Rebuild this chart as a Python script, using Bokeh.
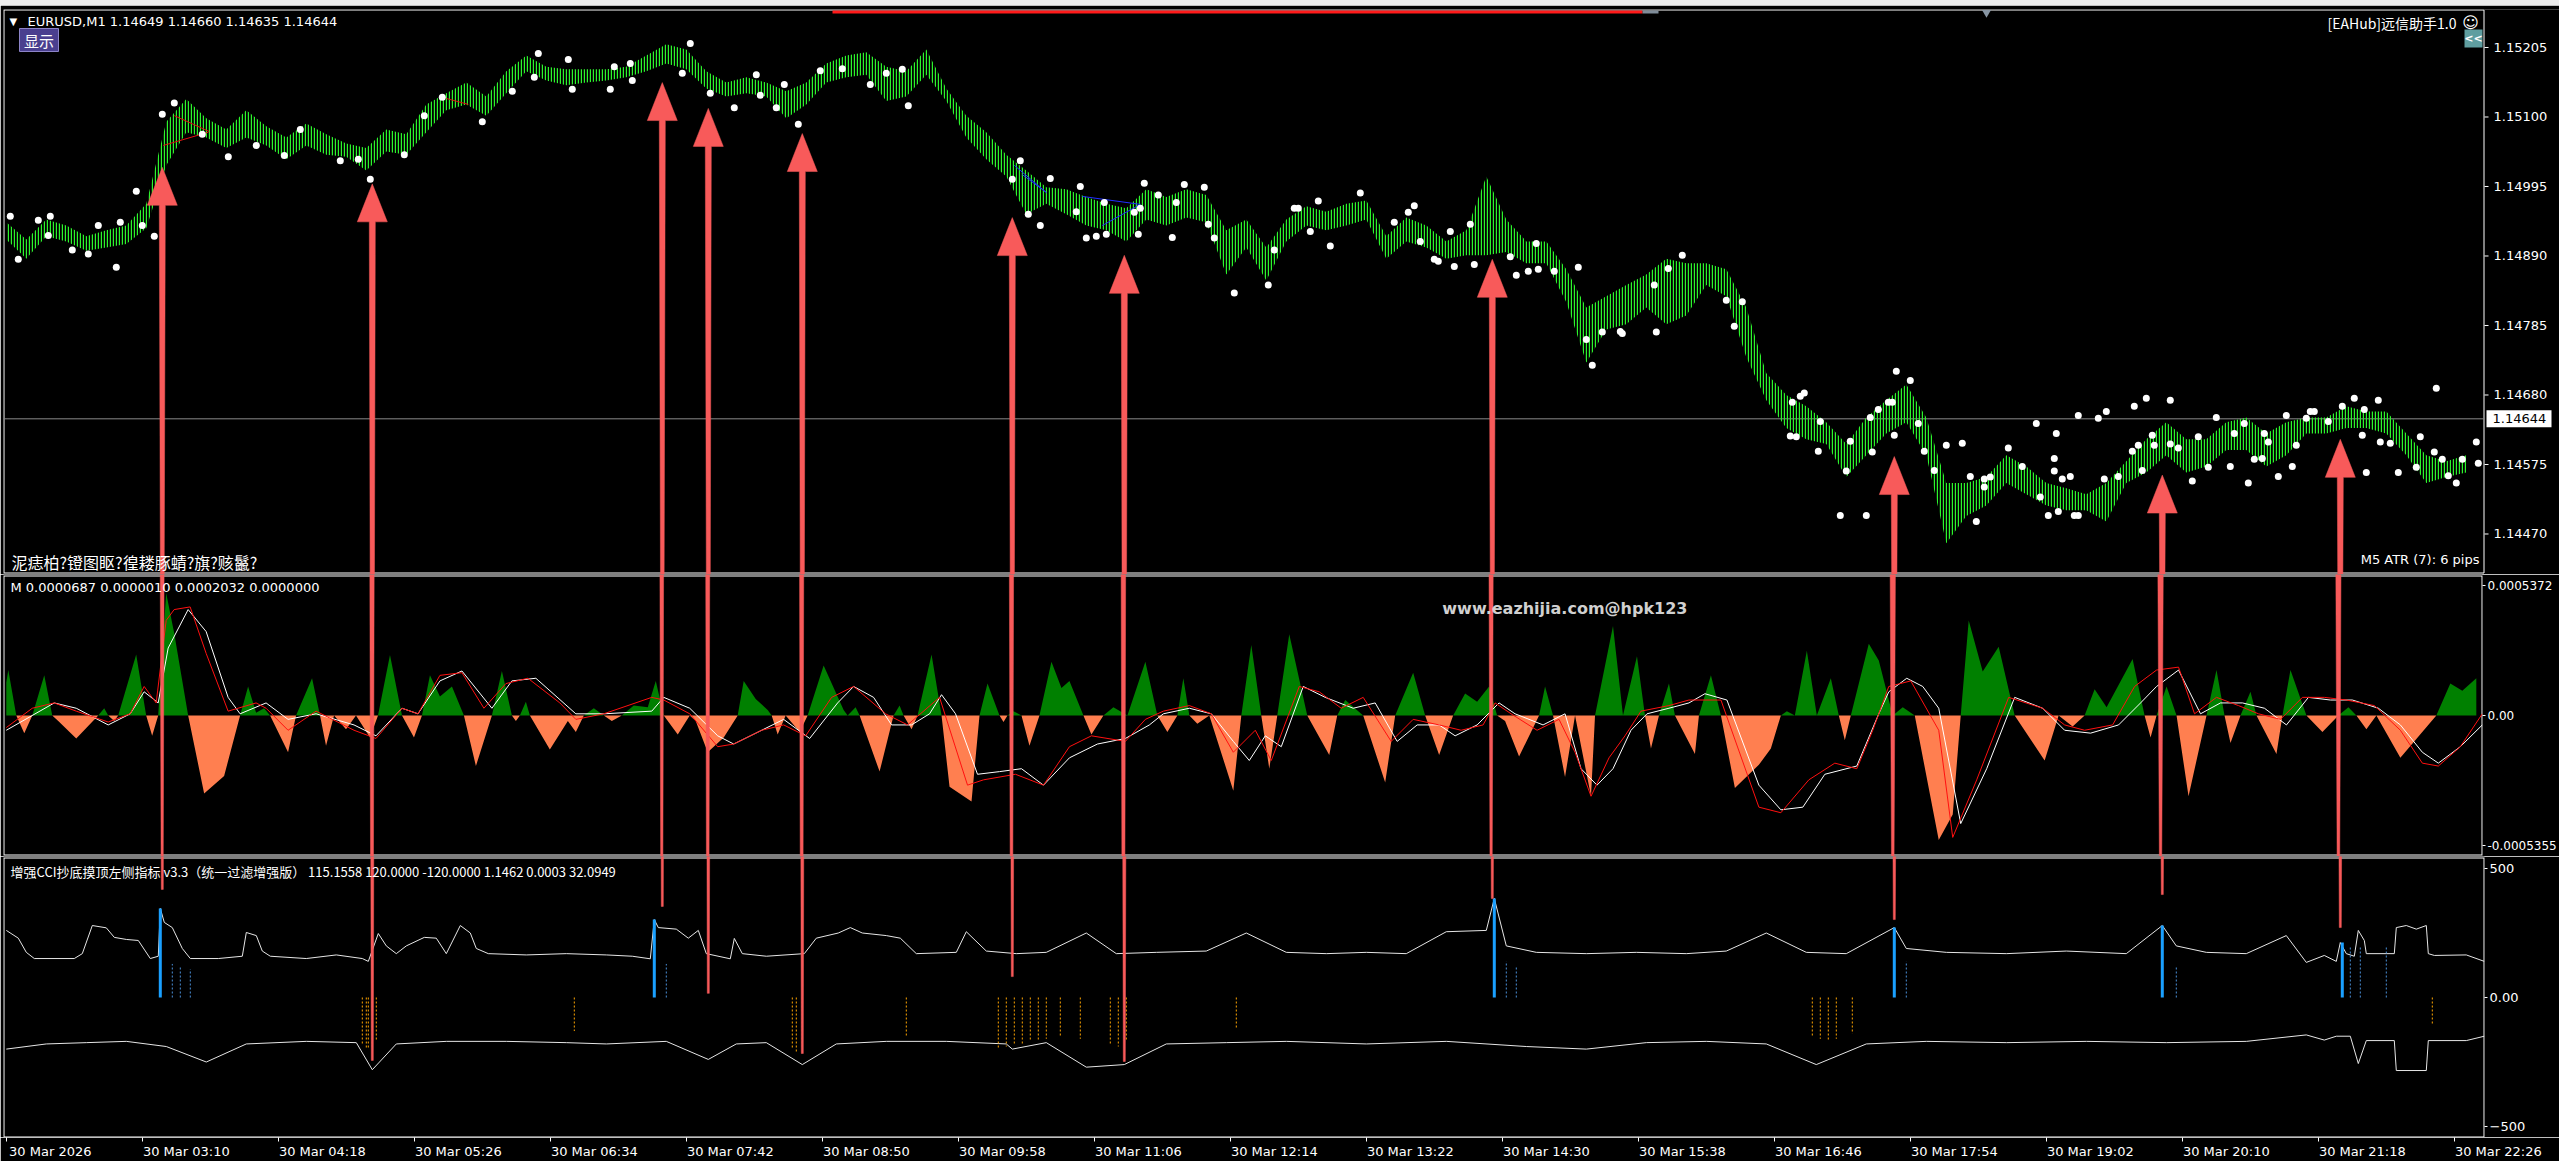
import numpy as np
from bokeh.plotting import figure
from bokeh.models import Range1d, FixedTicker, Label, Spacer, LinearAxis
from bokeh.embed import file_html
from bokeh.resources import INLINE
from bokeh.core.properties import value

# ---------------------------------------------------------------- data
# time axis (minutes after 02:02, one M1 bar per minute)
time_ticks = [0, 68, 136, 204, 272, 340, 408, 476, 544, 612, 680, 748, 816, 884, 952, 1020, 1088, 1156, 1224]
time_labels = ["30 Mar 2026", "30 Mar 03:10", "30 Mar 04:18", "30 Mar 05:26", "30 Mar 06:34", "30 Mar 07:42",
               "30 Mar 08:50", "30 Mar 09:58", "30 Mar 11:06", "30 Mar 12:14", "30 Mar 13:22", "30 Mar 14:30",
               "30 Mar 15:38", "30 Mar 16:46", "30 Mar 17:54", "30 Mar 19:02", "30 Mar 20:10", "30 Mar 21:18",
               "30 Mar 22:26"]
price_ticks = [1.14470, 1.14575, 1.14680, 1.14785, 1.14890, 1.14995, 1.15100, 1.15205]
last_price = 1.14644

# EURUSD M1 bars, high/low of each 10-minute slice
slice_minute = list(range(0, 1240, 10))
slice_high = [1.14941, 1.14915, 1.14945, 1.14936, 1.14920, 1.14929, 1.14936, 1.14969, 1.15093, 1.15127,
              1.15098, 1.15081, 1.15110, 1.15086, 1.15069, 1.15090, 1.15074, 1.15060, 1.15053, 1.15081,
              1.15074, 1.15119, 1.15136, 1.15152, 1.15131, 1.15169, 1.15193, 1.15176, 1.15172, 1.15172,
              1.15172, 1.15176, 1.15193, 1.15210, 1.15202, 1.15169, 1.15152, 1.15160, 1.15152, 1.15139,
              1.15152, 1.15181, 1.15193, 1.15198, 1.15176, 1.15169, 1.15202, 1.15143, 1.15102, 1.15077,
              1.15043, 1.15019, 1.14994, 1.14991, 1.14979, 1.14969, 1.14962, 1.14991, 1.14979, 1.14991,
              1.14982, 1.14929, 1.14945, 1.14903, 1.14945, 1.14965, 1.14957, 1.14969, 1.14974, 1.14920,
              1.14948, 1.14936, 1.14912, 1.14929, 1.15010, 1.14945, 1.14912, 1.14912, 1.14870, 1.14812,
              1.14829, 1.14846, 1.14862, 1.14886, 1.14879, 1.14879, 1.14870, 1.14812, 1.14713, 1.14680,
              1.14663, 1.14639, 1.14606, 1.14646, 1.14672, 1.14696, 1.14646, 1.14547, 1.14547, 1.14556,
              1.14589, 1.14572, 1.14547, 1.14539, 1.14530, 1.14547, 1.14580, 1.14613, 1.14639, 1.14613,
              1.14613, 1.14639, 1.14646, 1.14622, 1.14639, 1.14646, 1.14646, 1.14663, 1.14655, 1.14655,
              1.14622, 1.14589, 1.14580, 1.14589]
slice_low = [1.14915, 1.14886, 1.14920, 1.14912, 1.14898, 1.14903, 1.14908, 1.14932, 1.15027, 1.15077,
             1.15069, 1.15053, 1.15069, 1.15057, 1.15036, 1.15057, 1.15043, 1.15040, 1.15019, 1.15048,
             1.15043, 1.15077, 1.15110, 1.15119, 1.15102, 1.15136, 1.15169, 1.15155, 1.15148, 1.15152,
             1.15155, 1.15160, 1.15169, 1.15181, 1.15172, 1.15143, 1.15131, 1.15136, 1.15131, 1.15098,
             1.15119, 1.15152, 1.15160, 1.15164, 1.15124, 1.15131, 1.15164, 1.15124, 1.15069, 1.15036,
             1.15010, 1.14953, 1.14969, 1.14953, 1.14936, 1.14929, 1.14912, 1.14945, 1.14936, 1.14948,
             1.14941, 1.14862, 1.14903, 1.14853, 1.14912, 1.14936, 1.14929, 1.14936, 1.14945, 1.14886,
             1.14912, 1.14903, 1.14886, 1.14891, 1.14891, 1.14896, 1.14879, 1.14879, 1.14820, 1.14729,
             1.14779, 1.14787, 1.14812, 1.14787, 1.14800, 1.14846, 1.14829, 1.14737, 1.14672, 1.14630,
             1.14613, 1.14606, 1.14556, 1.14589, 1.14622, 1.14639, 1.14589, 1.14456, 1.14497, 1.14513,
             1.14547, 1.14530, 1.14513, 1.14506, 1.14506, 1.14489, 1.14547, 1.14563, 1.14589, 1.14563,
             1.14572, 1.14597, 1.14597, 1.14572, 1.14589, 1.14622, 1.14622, 1.14630, 1.14630, 1.14622,
             1.14589, 1.14547, 1.14556, 1.14563]

# white fractal dots
dot_minute = [2, 6, 16, 22, 21, 33, 41, 46, 55, 57, 65, 68, 74, 78, 84, 98, 111, 125, 139, 147, 167, 176, 182, 199,
              209, 218, 238, 253, 264, 266, 281, 283, 302, 304, 312, 313, 338, 342, 352, 364, 375, 377, 385, 389,
              396, 407, 418,
              432, 440, 448, 451, 507, 503, 511, 517, 522, 535, 537, 540, 545, 549, 550, 564, 566, 567, 569, 576,
              583, 585, 589, 599, 601, 604, 614, 631, 634, 644, 646, 652, 656, 662, 677, 694, 701, 704, 707, 714,
              716, 722, 724, 732, 734, 752, 755, 761, 765, 766, 774, 786, 790, 793, 798, 807, 808, 824, 825, 831, 838,
              860, 868, 864, 893, 897, 899, 892, 895, 907, 906, 920, 922, 917, 930, 932, 933, 936, 941, 943, 945,
              944, 952, 956, 959, 964, 970, 978, 982, 985, 989, 989, 992, 1001, 1008, 1015, 1017, 1021, 1024, 1024,
              1025, 1026, 1028, 1032, 1034, 1036, 1036, 1046, 1049, 1050, 1056, 1063, 1064, 1066, 1068, 1070, 1073,
              1074, 1082, 1082, 1086, 1093, 1096, 1101, 1105, 1112, 1114, 1119, 1121, 1124, 1128, 1129, 1131, 1136,
              1140, 1143, 1145, 1150, 1152, 1154, 1161, 1168, 1174, 1178, 1179, 1180, 1186, 1187, 1192, 1196, 1205,
              1207, 1214, 1215, 1218, 1221, 1225, 1228, 1235, 1236]
dot_price = [1.14950, 1.14885, 1.14944, 1.14950, 1.14921, 1.14899, 1.14893, 1.14936, 1.14873, 1.14941, 1.14988,
             1.14936, 1.14920, 1.15104, 1.15121, 1.15074, 1.15040, 1.15057, 1.15042, 1.15081, 1.15034, 1.15036,
             1.15006, 1.15043, 1.15102, 1.15130, 1.15093, 1.15139, 1.15160, 1.15196, 1.15187, 1.15142, 1.15142,
             1.15176, 1.15181, 1.15155, 1.15166, 1.15211, 1.15136, 1.15114, 1.15164, 1.15133, 1.15114, 1.15149,
             1.15089, 1.15170, 1.15173,
             1.15149, 1.15166, 1.15172, 1.15117, 1.15034, 1.15006, 1.14953, 1.14936, 1.15007, 1.14957, 1.14995,
             1.14917, 1.14920, 1.14971, 1.14923, 1.14956, 1.14923, 1.14962, 1.15000, 1.14982, 1.14918, 1.14971,
             1.14998, 1.14994, 1.14938, 1.14917, 1.14834, 1.14846, 1.14899, 1.14962, 1.14962, 1.14927, 1.14973,
             1.14905, 1.14985, 1.14941, 1.14956, 1.14966, 1.14912, 1.14885, 1.14882, 1.14927, 1.14874, 1.14938,
             1.14877, 1.14889, 1.14861, 1.14867, 1.14909, 1.14870, 1.14867, 1.14873, 1.14764, 1.14725, 1.14775,
             1.14776, 1.14773, 1.14846, 1.14775, 1.14871, 1.14891,
             1.14823, 1.14821, 1.14784, 1.14669, 1.14678, 1.14683, 1.14618, 1.14617, 1.14640, 1.14595, 1.14565,
             1.14610, 1.14498, 1.14498, 1.14646, 1.14594, 1.14658, 1.14669, 1.14669, 1.14716, 1.14619, 1.14702,
             1.14637, 1.14595, 1.14566, 1.14604, 1.14607, 1.14557, 1.14489, 1.14553, 1.14541, 1.14556, 1.14600,
             1.14572, 1.14637, 1.14526, 1.14498, 1.14584, 1.14565, 1.14622, 1.14504, 1.14553, 1.14557, 1.14498,
             1.14498, 1.14649, 1.14645, 1.14553, 1.14655, 1.14557, 1.14595, 1.14663, 1.14604, 1.14566, 1.14675,
             1.14619, 1.14604, 1.14672, 1.14606, 1.14600, 1.14550, 1.14617, 1.14571, 1.14646, 1.14572, 1.14622,
             1.14637, 1.14547, 1.14583, 1.14584, 1.14622, 1.14609, 1.14557, 1.14649, 1.14572, 1.14604, 1.14645,
             1.14655, 1.14655, 1.14640, 1.14663, 1.14675, 1.14619, 1.14658, 1.14563, 1.14672, 1.14609, 1.14607,
             1.14563, 1.14571, 1.14617, 1.14594, 1.14690, 1.14583, 1.14558, 1.14547, 1.14583, 1.14609, 1.14577]

# small pattern lines on the price chart (minute0, price0, minute1, price1)
red_lines = [(78.5, 1.15057, 101, 1.15077), (84, 1.15102, 101.5, 1.15078), (220, 1.15128, 231, 1.15119)]
blue_lines = [(504, 1.15027, 520, 1.14986), (508, 1.15013, 520, 1.14986),
              (538, 1.14980, 567, 1.14968), (548, 1.14936, 567, 1.14968)]

# signal arrows: bar, tip price (main pane), tail value (CCI pane)
arrow_minute = [78, 183, 328, 351, 398, 503, 559, 743, 944, 1078, 1167]
arrow_tip_price = [1.15024, 1.14999, 1.15152, 1.15113, 1.15075, 1.14948, 1.14891, 1.14885, 1.14587, 1.14559, 1.14613]
arrow_tail_cci = [419, -244, 353, 16, -217, 81, -248, 384, 302, 399, 271]

# MACD histogram and lines (values in 1e-6)
hist_minute = [0, 1, 5, 9, 13, 19, 23, 26, 35, 46, 49, 51, 54, 56, 65, 70, 73, 76, 80, 84, 91, 99, 109, 117, 121,
               125, 129, 132, 141, 145, 153, 157, 160, 164, 170, 175, 182, 186, 192, 198, 204, 208, 212, 217, 223,
               229, 235, 243, 248, 253, 255, 257, 260, 262, 272, 281, 285, 289, 294, 299, 303, 308, 314, 321, 325,
               329, 336, 342, 345, 351, 359, 366, 369, 375, 381, 383, 386, 390, 397, 401, 409, 419, 421,
               425, 427, 437, 444, 447, 449, 453, 456, 463, 468, 472, 483, 487, 491, 497, 499, 501, 504, 508, 512,
               517, 523, 528, 532, 539, 543, 549, 554, 561, 570, 576, 581, 586, 589, 592, 596, 602, 614, 618, 623,
               628, 632, 636, 642, 651, 662, 666, 670, 679, 690, 695, 704, 710, 717, 724, 730, 736, 742, 746, 750,
               757, 767, 770, 774, 780, 785, 793, 795, 804, 809, 816, 820, 823, 827, 832, 835, 845, 847,
               853, 858, 865, 877, 883, 888, 891, 895, 901, 906, 913, 917, 920, 923, 932, 937, 944, 949, 955, 967,
               974, 978, 982, 989, 997, 1005, 1020, 1027, 1034, 1040, 1045, 1051, 1064, 1070, 1073, 1076, 1081,
               1086, 1092, 1101, 1106, 1110, 1113, 1118, 1123, 1126, 1136, 1139, 1143, 1151, 1159, 1167, 1172, 1176,
               1181, 1186, 1198, 1216, 1223, 1229, 1236]
hist_e6 = [136, 188, 0, -73, 0, 166, 0, -23, -95, 0, 30, 0, -23, 0, 252, 0, -84, 0, 506, 341, 0, -322, -250, 0, 120,
           11, 30, 0, -152, 0, 154, 0, -125, 0, -57, 0, -91, 0, 250, 0, -91, 0, 166, 79, 120, 0, -209, 0, 184, 0,
           -23, 0, 57, 0, -141, -23, -68, 0, 30, 0, -23, 0, 41, 34, 143, 0, -79, 0, -23, -152, -91, 0, 143, 68, 23,
           0, -79, 0, -68, 0, 207, 23, 0,
           34, 0, -232, 0, 41, 0, -57, 0, 252, 0, -295, -356, 0, 132, 0, -27, 0, 18, 0, -125, 0, 222, 114, 143, 0,
           -79, 0, 34, 0, 222, 0, -68, 0, 154, 0, -34, 0, -311, 0, 291, 0, -220, 0, 336, 0, -163, 0, 64, 0, -277,
           0, 177, 0, -163, 0, 91, 57, 120, 0, -23, -170, 0, 120, 0, -254, 0, -334, 0, 370, 0, 245, 0, -136, 0,
           132, 0, -159, 0,
           166, 0, -300, -204, -136, 0, 18, 0, 268, 0, 154, 0, -102, 0, 297, 227, 0, 34, 0, -515, -409, 0, 393,
           182, 284, 0, -186, 0, -45, 0, 109, 34, 234, 0, -91, 0, 120, 0, -334, 0, 188, 0, -114, 0, 98, 0, -159,
           0, 188, 0, -68, 0, 34, 0, -57, 0, -175, 0, 132, 102, 154]
macd_main_minute = [0, 24, 35, 51, 62, 69, 76, 81, 91, 100, 111, 117, 130, 141, 155, 174, 185, 198, 206, 217, 228,
                    243, 253, 265, 285, 299, 323, 329, 342, 356, 364, 378, 389, 402, 416, 424,
                    434, 443, 453, 462, 468, 475, 486, 497, 508, 519, 532, 546, 560, 572, 579, 592, 603, 614, 622,
                    630, 638, 649, 660, 674, 685, 696, 706, 717, 725, 736, 747, 755, 769, 780, 788, 796, 804, 813,
                    821, 832, 842,
                    850, 861, 877, 888, 899, 910, 926, 937, 942, 951, 959, 967, 978, 991, 1005, 1019, 1030, 1043,
                    1057, 1068, 1076, 1087, 1098, 1108, 1119, 1130, 1141, 1152, 1163, 1174, 1187, 1198, 1209, 1217,
                    1228, 1239]
macd_main_e6 = [-61, 52, 30, -39, 7, 98, 52, 279, 438, 347, 75, 7, 52, -16, 7, -39, -84, 30, 7, 143, 184, 30, 143,
                154, 7, 7, 18, 75, 30, -84, -118, -61, -16, -95, 52, 120,
                75, -39, -39, 7, 86, 7, -243, -232, -220, -288, -175, -118, -95, -39, 7, 30, 7, -107, -186, -84,
                -129, 120, 75, 30, 52, -107, -39, -39, -84, -39, 52, 7, -39, 7, -220, -288, -220, -61, 7, 30, 52,
                90, 64, -288, -390, -379, -243, -209, 7, 98, 154, 120, 30, -447, -220, 75, 30, -61, -73, -39, 52,
                120, 188, 7, 52, 52, 30, -39, 75, 64, 64, 30, -39, -152, -197, -129, -39]
macd_signal_minute = [0, 13, 24, 35, 51, 62, 69, 75, 80, 84, 92, 100, 111, 125, 130, 141, 155, 174, 185, 198, 206,
                      217, 228, 239, 250, 261, 277, 285, 299, 323, 329, 342, 356, 364, 378, 389, 400, 413, 424,
                      440, 451, 467, 481, 489, 505, 519, 532, 543, 560, 570, 579, 592, 603, 614, 625, 633, 647, 657,
                      668, 679, 693, 704, 717, 728, 739, 745, 753, 766, 777, 785, 793, 802, 810, 818, 832, 842,
                      858, 877, 888, 902, 915, 926, 934, 942, 953, 967, 974, 986, 1002, 1019, 1030, 1040, 1054, 1065,
                      1076, 1087, 1095, 1106, 1117, 1127, 1138, 1149, 1160, 1171, 1185, 1198, 1209, 1217, 1228, 1239]
macd_signal_e6 = [-50, 30, 52, 18, -27, 7, 120, 52, 393, 438, 449, 257, 18, 52, 30, -61, 18, -61, -95, 30, 7, 166,
                  177, 30, 132, 154, 52, -16, 7, 75, 64, 7, -129, -118, -61, -39, -84, 75, 120,
                  7, -39, 75, -288, -266, -243, -288, -129, -84, -107, -16, 18, 41, 7, -152, -61, -186, 120, 98, 30,
                  75, -107, -16, -39, -61, -39, 52, 7, -61, -16, -152, -334, -175, -84, 18, 41, 64,
                  64, -379, -402, -266, -197, -220, -61, 120, 143, -61, -504, -266, 75, 30, -39, -61, -39, 120,
                  188, 200, 7, 75, 41, 7, -16, 75, 75, 64, 41, -61, -197, -209, -129, 7]
macd_ticks = [-0.0005355, 0.0, 0.0005372]

# enhanced CCI pane
cci_up_minute = [0, 6, 10, 14, 34, 38, 43, 50, 54, 60, 66, 72, 76, 77, 79, 83, 88, 92, 106, 118, 120, 125, 128, 132,
                 150, 165, 178, 181, 186, 190, 195, 200, 209, 215, 220, 227, 232, 235, 241, 260, 280, 300, 313, 322,
                 324, 326, 335, 341, 346, 350, 362, 364, 368, 380, 399, 405, 416, 422, 428, 440, 447,
                 455, 475, 480, 490, 505, 520, 540, 555, 575, 600, 620, 640, 660, 680, 700, 720, 740, 744, 750, 765,
                 790, 815, 840, 860, 880, 900, 920, 944, 950, 970, 1000, 1030, 1060, 1078, 1085, 1100, 1120, 1140,
                 1150, 1159, 1165, 1167, 1170, 1174, 1176, 1179, 1180, 1194, 1195, 1200, 1205, 1210, 1211, 1214,
                 1230, 1239]
cci_up = [260, 230, 175, 151, 151, 170, 279, 270, 233, 225, 221, 151, 160, 345, 291, 271, 190, 151, 151, 160, 252,
          240, 180, 160, 151, 165, 151, 140, 248, 200, 170, 200, 233, 230, 170, 279, 250, 190, 170, 165, 170, 165,
          160, 150, 302, 271, 265, 230, 260, 170, 150, 229, 170, 160, 170, 230, 250, 271, 250, 240, 230,
          170, 175, 255, 180, 170, 175, 250, 170, 175, 180, 250, 175, 170, 175, 170, 255, 260, 384, 200, 175,
          170, 175, 170, 180, 250, 175, 170, 271, 190, 175, 170, 180, 170, 279, 200, 175, 170, 240,
          136, 163, 140, 213, 170, 160, 260, 221, 170, 170, 271, 279, 265, 279, 170, 163, 165, 140]
cci_dn_minute = [0, 20, 40, 60, 80, 100, 120, 150, 175, 183, 195, 220, 250, 280, 300, 330, 351, 365, 380, 398, 415,
                 440, 470, 500, 503, 520, 540, 559, 580, 610, 640, 680, 720, 760, 790, 820, 850, 880, 905, 930, 960,
                 1000, 1040, 1080, 1120, 1150, 1159, 1165, 1172, 1176, 1180, 1194, 1195, 1210, 1211, 1230, 1239]
cci_dn = [-200, -180, -175, -170, -190, -250, -180, -170, -175, -280, -180, -170, -170, -175, -180, -170, -240, -180,
          -175, -260, -180, -170, -170, -180, -200, -175, -270, -260, -180, -175, -170, -180, -170, -190, -200, -175,
          -170, -180, -260, -180, -170, -175, -170, -175, -170, -145, -165, -150, -150, -256, -167, -167, -283,
          -283, -167, -167, -150]
cci_buy_minute = [77, 324, 744, 944, 1078, 1168]
cci_buy_top = [345, 302, 384, 271, 279, 213]
cci_buy_dash_minute = [83, 87, 92, 330, 750, 755, 950, 1085, 1172, 1177, 1190]
cci_buy_dash_top = [130, 120, 110, 130, 140, 120, 140, 120, 194, 194, 194]
cci_sell_dash_minute = [178, 180, 181, 183, 185, 284, 393, 395, 398, 450, 496, 500, 504, 508, 512, 516, 520, 527,
                        537, 552, 556, 560, 615, 903, 907, 911, 915, 923, 1213]
cci_sell_dash_bottom = [-180, -200, -200, -190, -170, -130, -200, -210, -190, -150, -200, -190, -180, -180, -170,
                        -170, -160, -150, -160, -180, -190, -170, -120, -150, -160, -170, -160, -140, -101]
cci_ticks = [-500, 0, 500]

# ---------------------------------------------------------------- layout helpers
W = 2559
FRAME_LEFT, FRAME_RIGHT = 3, 2484
X0_PX, PX_PER_MIN = 5.8, 2.0


def gx_to_t(gx):
    return (gx - X0_PX) / PX_PER_MIN


def t_to_gx(t):
    return X0_PX + PX_PER_MIN * t


x_range = Range1d(gx_to_t(FRAME_LEFT), gx_to_t(FRAME_RIGHT))

PANES = {
    "main": dict(top=9, bottom=574, lo=1.144088, hi=1.152624, box=(9.5, 572.5)),
    "macd": dict(top=574, bottom=856, lo=-0.000583, hi=0.000583, box=(575.5, 854.5)),
    "cci": dict(top=856, bottom=1137, lo=-542.6, hi=546.5, box=(857.5, 1136.5)),
}


def v_to_gy(pane, v):
    g = PANES[pane]
    return g["top"] + (g["hi"] - v) / (g["hi"] - g["lo"]) * (g["bottom"] - g["top"])


def gy_to_v(pane, gy):
    g = PANES[pane]
    return g["hi"] - (gy - g["top"]) / (g["bottom"] - g["top"]) * (g["hi"] - g["lo"])


FONT = "DejaVu Sans"
CJK = "Noto Sans CJK SC"
ARROW_COLOR = "#f85a5a"
BAR_GREEN = "#2cf52c"


def make_fig(pane, height, top_border, full_width=False):
    g = PANES[pane]
    xr = Range1d(gx_to_t(FRAME_LEFT), gx_to_t(W)) if full_width else x_range
    p = figure(width=W, height=height, x_range=xr, y_range=Range1d(g["lo"], g["hi"]),
               x_axis_location=None, y_axis_location=None if full_width else "right",
               toolbar_location=None, output_backend="svg",
               min_border_left=FRAME_LEFT, min_border_right=0 if full_width else W - FRAME_RIGHT,
               min_border_top=top_border, min_border_bottom=0,
               background_fill_color="black", border_fill_color="black", outline_line_color=None)
    p.grid.visible = False
    if not full_width:
        ax = p.yaxis[0]
        ax.axis_line_color = None
        ax.major_tick_line_color = "white"
        ax.major_tick_in = 0
        ax.minor_tick_line_color = None
        ax.major_label_text_color = "white"
        ax.major_label_text_font = FONT
    bt, bb = g["box"]
    p.quad(left=[gx_to_t(FRAME_LEFT + 0.5)], right=[gx_to_t(FRAME_RIGHT - 0.5)],
           top=[gy_to_v(pane, bt)], bottom=[gy_to_v(pane, bb)],
           fill_color=None, line_color="white", line_width=1)
    return p


def add_label(p, pane, gx, gy, text, size, color="white", font=FONT, align="left", bold=False):
    p.add_layout(Label(x=gx_to_t(gx), y=gy_to_v(pane, gy), text=text, text_font=font,
                       text_font_size=f"{size}px", text_color=color, text_align=align,
                       text_baseline="middle", text_font_style="bold" if bold else "normal"))


def draw_arrows(p, pane):
    xs, ys = [], []
    for t, tip, tail in zip(arrow_minute, arrow_tip_price, arrow_tail_cci):
        gx = t_to_gx(t)
        gy_tip = v_to_gy("main", tip)
        gy_tail = v_to_gy("cci", tail)
        gy_base = gy_tip + 38
        poly = [(gx - 1, gy_tail), (gx - 3, gy_base), (gx - 15, gy_base), (gx, gy_tip),
                (gx + 15, gy_base), (gx + 3, gy_base), (gx + 1, gy_tail)]
        xs.append([gx_to_t(a) for a, _ in poly])
        ys.append([gy_to_v(pane, b) for _, b in poly])
    p.patches(xs, ys, fill_color=ARROW_COLOR, line_color=ARROW_COLOR, line_width=0.5)


# ---------------------------------------------------------------- main price pane
p1 = make_fig("main", 569, 4, full_width=True)

x0, x1 = x_range.start, x_range.end
p1.segment(x0=[x0], x1=[x1], y0=[last_price], y1=[last_price], line_color="#8a8a8a", line_width=1)

# price scale on the right of the pane
n_ticks = len(price_ticks)
p1.segment(x0=[gx_to_t(FRAME_RIGHT)] * n_ticks, x1=[gx_to_t(FRAME_RIGHT + 4)] * n_ticks,
           y0=price_ticks, y1=price_ticks, line_color="white", line_width=1)
p1.text(x=[gx_to_t(2493)] * n_ticks, y=price_ticks, text=[f"{v:.5f}" for v in price_ticks],
        text_font=value(FONT), text_font_size="13px", text_color="white", text_baseline="middle")
gy_last = v_to_gy("main", last_price)
p1.quad(left=[gx_to_t(2486)], right=[gx_to_t(2551)], top=[gy_to_v("main", gy_last - 8.5)],
        bottom=[gy_to_v("main", gy_last + 8.5)], fill_color="white", line_color=None)
p1.text(x=[gx_to_t(2492)], y=[last_price], text=[f"{last_price:.5f}"], text_font=value(FONT),
        text_font_size="13px", text_color="black", text_baseline="middle")

# one-click trading bar at the top
p1.quad(left=[gx_to_t(832)], right=[gx_to_t(1642)], top=[gy_to_v("main", 10)], bottom=[gy_to_v("main", 13)],
        fill_color="#ff1a1a", line_color=None)
p1.quad(left=[gx_to_t(1642)], right=[gx_to_t(1658)], top=[gy_to_v("main", 10)], bottom=[gy_to_v("main", 13)],
        fill_color="#7f8c99", line_color=None)
p1.scatter(x=[gx_to_t(1986)], y=[gy_to_v("main", 12)], marker="inverted_triangle", size=9,
           fill_color="#8795a3", line_color=None)

# bars
p1.varea(x=slice_minute, y1=slice_low, y2=slice_high, fill_alpha=0.0,
         hatch_pattern="vertical_line", hatch_color=BAR_GREEN, hatch_scale=3, hatch_weight=1.4)

for a, b, c, d in red_lines:
    p1.line([a, c], [b, d], line_color="#e01010", line_width=1)
for a, b, c, d in blue_lines:
    p1.line([a, c], [b, d], line_color="#2030ff", line_width=1)

p1.scatter(x=dot_minute, y=dot_price, size=7, fill_color="white", line_color=None)
draw_arrows(p1, "main")

add_label(p1, "main", 9, 21, "\u25bc", 10)
add_label(p1, "main", 27, 21, "EURUSD,M1  1.14649 1.14660 1.14635 1.14644", 13)
p1.quad(left=[gx_to_t(19)], right=[gx_to_t(58)], top=[gy_to_v("main", 28)], bottom=[gy_to_v("main", 51)],
        fill_color="#4a3f8f", line_color="#8c84c8", line_width=1)
add_label(p1, "main", 38.5, 39.5, "显示", 15, font=CJK, align="center")
add_label(p1, "main", 2456, 22, "[EAHub]远信助手1.0", 14, font=CJK, align="right")
add_label(p1, "main", 2470, 22, "\u263a", 16, align="center")
p1.quad(left=[gx_to_t(2464)], right=[gx_to_t(2482)], top=[gy_to_v("main", 29)], bottom=[gy_to_v("main", 47)],
        fill_color="#5f9ea0", line_color=None)
add_label(p1, "main", 2473, 38, "<<", 11, align="center", bold=True)
add_label(p1, "main", 11, 561, "泥痣柏?镫图眍?徨耧豚蜻?旗?赅鬣?", 16, font=CJK)
add_label(p1, "main", 2479, 559, "M5 ATR (7): 6 pips", 13, align="right")

# ---------------------------------------------------------------- MACD pane
p2 = make_fig("macd", 282, 0)
ax2 = p2.yaxis[0]
ax2.ticker = FixedTicker(ticks=macd_ticks)
ax2.major_label_overrides = {0.0005372: "0.0005372", 0.0: "0.00", -0.0005355: "-0.0005355"}
ax2.major_tick_out = 3
ax2.major_label_standoff = 2
ax2.major_label_text_font_size = "12px"

hist = np.array(hist_e6) * 1e-6
p2.varea(x=hist_minute, y1=0, y2=np.maximum(hist, 0), fill_color="#008000")
p2.varea(x=hist_minute, y1=np.minimum(hist, 0), y2=0, fill_color="#ff7f50")
p2.line(x=macd_main_minute, y=np.array(macd_main_e6) * 1e-6, line_color="white", line_width=1)
p2.line(x=macd_signal_minute, y=np.array(macd_signal_e6) * 1e-6, line_color="#ff1010", line_width=1)
draw_arrows(p2, "macd")
add_label(p2, "macd", 10, 587, "M 0.0000687 0.0000010 0.0002032 0.0000000", 13)
add_label(p2, "macd", 1443, 608, "www.eazhijia.com@hpk123", 16, color="#d0d0d0", bold=True)

# ---------------------------------------------------------------- CCI pane
p3 = make_fig("cci", 281, 0)
ax3 = p3.yaxis[0]
ax3.ticker = FixedTicker(ticks=cci_ticks)
ax3.major_label_overrides = {0: "0.00"}
ax3.major_tick_out = 3
ax3.major_label_standoff = 2
ax3.major_label_text_font_size = "13px"

p3.line(x=cci_up_minute, y=cci_up, line_color="#e6e6e6", line_width=1)
p3.line(x=cci_dn_minute, y=cci_dn, line_color="#e6e6e6", line_width=1)
p3.segment(x0=cci_buy_dash_minute, x1=cci_buy_dash_minute, y0=[0] * len(cci_buy_dash_minute),
           y1=cci_buy_dash_top, line_color="#4a90d9", line_width=1, line_dash="2 2")
p3.segment(x0=cci_sell_dash_minute, x1=cci_sell_dash_minute, y0=[0] * len(cci_sell_dash_minute),
           y1=cci_sell_dash_bottom, line_color="#ffa500", line_width=1, line_dash="2 2")
p3.segment(x0=cci_buy_minute, x1=cci_buy_minute, y0=[0] * len(cci_buy_minute), y1=cci_buy_top,
           line_color="#1aa0ff", line_width=3)
draw_arrows(p3, "cci")
add_label(p3, "cci", 10, 871,
          "增强CCI抄底摸顶左侧指标 v3.3（统一过滤增强版） 115.1558 120.0000 -120.0000 1.1462 0.0003 32.0949",
          13, font=CJK)

# ---------------------------------------------------------------- time axis strip
p4 = figure(width=W, height=24, x_range=Range1d(gx_to_t(0), gx_to_t(W)), y_range=Range1d(0, 1),
            x_axis_location=None, y_axis_location=None, toolbar_location=None, output_backend="svg",
            min_border_left=0, min_border_right=0, min_border_top=0, min_border_bottom=23,
            background_fill_color="black", border_fill_color="black", outline_line_color=None)
p4.grid.visible = False
tick_axis = LinearAxis(ticker=FixedTicker(ticks=time_ticks), major_label_overrides={t: "" for t in time_ticks},
                       major_label_text_font_size="1px", major_label_standoff=0, axis_line_color=None,
                       major_tick_line_color="white", major_tick_in=0, major_tick_out=4,
                       minor_tick_line_color=None)
LABEL_SHIFT = 22  # labels start at the tick, as in MetaTrader
label_pos = [t + LABEL_SHIFT for t in time_ticks]
label_axis = LinearAxis(ticker=FixedTicker(ticks=label_pos),
                        major_label_overrides={pos: lab for pos, lab in zip(label_pos, time_labels)},
                        major_label_text_font=FONT, major_label_text_font_size="13px",
                        major_label_text_color="white", major_label_standoff=2, axis_line_color=None,
                        major_tick_line_color=None, major_tick_in=0, major_tick_out=0,
                        minor_tick_line_color=None)
p4.add_layout(tick_axis, "below")
p4.add_layout(label_axis, "below")

top_strip = Spacer(width=W, height=5, styles={"background-color": "#ececec"})

# independent roots, stacked top to bottom (keeps each pane's own frame geometry)
with open("out.html", "w") as f:
    f.write(file_html([top_strip, p1, p2, p3, p4], INLINE))
